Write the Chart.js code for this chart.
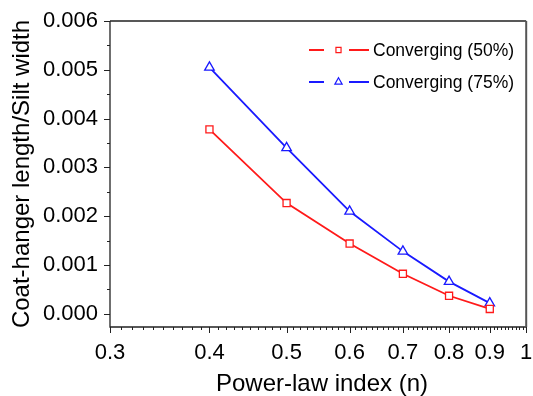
<!DOCTYPE html>
<html>
<head>
<meta charset="utf-8">
<script src="https://cdn.jsdelivr.net/npm/chart.js@4.4.1/dist/chart.umd.min.js"></script>
<style>
  html, body { margin: 0; padding: 0; background: #fff; }
  #wrap { width: 533px; height: 396px; position: relative; }
</style>
</head>
<body>
<div id="wrap"><canvas id="c" width="533" height="396"></canvas></div>
<script>
// Power-law index values and the two coat-hanger series
const nValues = [0.4, 0.5, 0.6, 0.7, 0.8, 0.9];
const conv50 = [0.00378, 0.00227, 0.00144, 0.00082, 0.00037, 0.00010];
const conv75 = [0.00505, 0.00340, 0.00210, 0.00128, 0.00066, 0.00022];

const xTicks = [0.3, 0.4, 0.5, 0.6, 0.7, 0.8, 0.9, 1];
const yTicks = [0, 0.001, 0.002, 0.003, 0.004, 0.005, 0.006];

const seriesNames = ['Converging (50%)', 'Converging (75%)'];
const RED = '#ff1a1a';
const BLUE = '#1a1aff';
const FONT = '"Liberation Sans", Arial, sans-serif';

const toPoints = (ys) => nValues.map((x, i) => ({ x: x, y: ys[i] }));

// Tick marks, frame, axis titles and the legend
const decor = {
  id: 'decor',
  afterDraw(chart) {
    const ctx = chart.ctx;
    const a = chart.chartArea;
    const xs = chart.scales.x, ys = chart.scales.y;
    ctx.save();
    ctx.strokeStyle = '#222';
    ctx.lineWidth = 1;
    // x ticks: majors at tenths, minors at hundredths
    for (let k = 30; k <= 100; k++) {
      const px = Math.round(xs.getPixelForValue(k / 100)) + 0.5;
      const len = (k % 10 === 0) ? 6 : 3;
      ctx.beginPath();
      ctx.moveTo(px, a.bottom);
      ctx.lineTo(px, a.bottom + len);
      ctx.stroke();
    }
    // y ticks: majors every 0.001, minors halfway
    for (let k = 0; k <= 12; k++) {
      const py = Math.round(ys.getPixelForValue(k * 0.0005)) + 0.5;
      const len = (k % 2 === 0) ? 6 : 3;
      ctx.beginPath();
      ctx.moveTo(a.left, py);
      ctx.lineTo(a.left - len, py);
      ctx.stroke();
    }
    // frame
    ctx.lineWidth = 1.3;
    ctx.strokeStyle = '#222';
    ctx.beginPath();
    ctx.moveTo(a.left, a.top);
    ctx.lineTo(a.left, a.bottom);
    ctx.lineTo(a.right, a.bottom);
    ctx.moveTo(a.left, a.top);
    ctx.lineTo(a.right, a.top);
    ctx.stroke();
    ctx.lineWidth = 2;
    ctx.strokeStyle = '#555';
    ctx.beginPath();
    ctx.moveTo(a.right, a.top);
    ctx.lineTo(a.right, a.bottom);
    ctx.stroke();

    // axis titles
    ctx.fillStyle = '#000';
    ctx.font = '24px ' + FONT;
    ctx.textAlign = 'center';
    ctx.textBaseline = 'alphabetic';
    ctx.fillText('Power-law index (n)', 322, 391);
    ctx.save();
    ctx.translate(29, (a.top + a.bottom) / 2);
    ctx.rotate(-Math.PI / 2);
    ctx.fillText('Coat-hanger length/Silt width', 0, 0);
    ctx.restore();

    // legend: line - marker - line, then label
    const rows = [
      { y: 50, color: RED, style: 'rect', r: 3.6 },
      { y: 82, color: BLUE, style: 'triangle', r: 4.2 }
    ];
    ctx.font = '17.5px ' + FONT;
    ctx.textAlign = 'left';
    ctx.textBaseline = 'middle';
    rows.forEach((row, i) => {
      ctx.strokeStyle = row.color;
      ctx.lineWidth = 1.8;
      ctx.beginPath();
      ctx.moveTo(309, row.y);
      ctx.lineTo(324, row.y);
      ctx.moveTo(349, row.y);
      ctx.lineTo(369, row.y);
      ctx.stroke();
      ctx.fillStyle = '#fff';
      ctx.lineWidth = 1.2;
      Chart.helpers.drawPoint(ctx, { pointStyle: row.style, radius: row.r, rotation: 0, borderWidth: 1.2 }, 338.5, row.y);
      ctx.fillStyle = '#000';
      ctx.fillText(seriesNames[i], 373, row.y + 1);
    });
    ctx.restore();
  }
};

new Chart(document.getElementById('c'), {
  type: 'line',
  data: {
    datasets: [
      {
        label: seriesNames[0],
        data: toPoints(conv50),
        borderColor: RED,
        borderWidth: 1.8,
        pointStyle: 'rect',
        pointRadius: 5,
        pointBorderWidth: 1.3,
        pointBorderColor: RED,
        pointBackgroundColor: '#fff',
        tension: 0
      },
      {
        label: seriesNames[1],
        data: toPoints(conv75),
        borderColor: BLUE,
        borderWidth: 1.8,
        pointStyle: 'triangle',
        pointRadius: 5.5,
        pointBorderWidth: 1.3,
        pointBorderColor: BLUE,
        pointBackgroundColor: '#fff',
        tension: 0
      }
    ]
  },
  options: {
    responsive: false,
    animation: false,
    devicePixelRatio: 1,
    layout: { padding: { top: 21, right: 6, left: 0, bottom: 0 } },
    plugins: { legend: { display: false }, tooltip: { enabled: false } },
    scales: {
      x: {
        type: 'logarithmic',
        min: 0.3,
        max: 1,
        grid: { display: false, drawTicks: false },
        border: { display: false },
        afterBuildTicks: (s) => { s.ticks = xTicks.map(v => ({ value: v })); },
        afterFit: (s) => { s.height = 69; s.paddingLeft = 0; s.paddingRight = 0; },
        ticks: {
          autoSkip: false,
          maxRotation: 0,
          padding: 13,
          color: '#000',
          font: { family: FONT, size: 22 },
          callback: (v) => (v === 1 ? '1' : Number(v).toFixed(1))
        }
      },
      y: {
        type: 'linear',
        min: -0.00027,
        max: 0.006,
        grid: { display: false, drawTicks: false },
        border: { display: false },
        afterBuildTicks: (s) => { s.ticks = yTicks.map(v => ({ value: v })); },
        afterFit: (s) => { s.width = 110; s.paddingTop = 0; s.paddingBottom = 0; },
        ticks: {
          padding: 12,
          color: '#000',
          font: { family: FONT, size: 22 },
          callback: (v) => Number(v).toFixed(3)
        }
      }
    }
  },
  plugins: [decor]
});
</script>
</body>
</html>
